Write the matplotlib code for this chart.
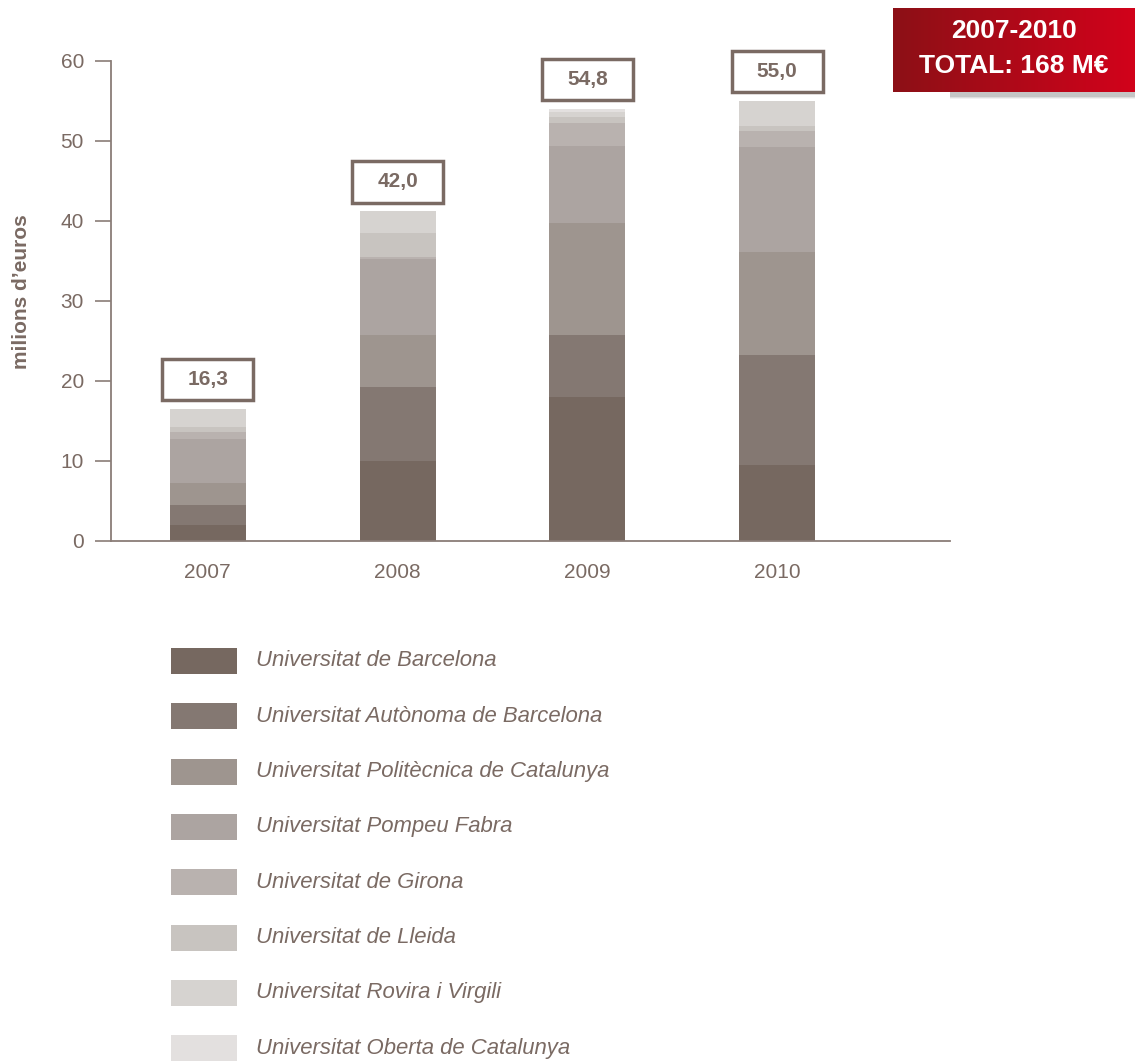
import numpy as np
import matplotlib
matplotlib.use("Agg")
import matplotlib.pyplot as plt
from matplotlib.patches import Rectangle
from matplotlib.colors import LinearSegmentedColormap

plt.rcParams['font.family'] = ['Liberation Sans', 'DejaVu Sans']

# dades (milions d'euros)
years = ["2007", "2008", "2009", "2010"]
totals_txt = ["16,3", "42,0", "54,8", "55,0"]
universities = [
    "Universitat de Barcelona",
    "Universitat Autònoma de Barcelona",
    "Universitat Politècnica de Catalunya",
    "Universitat Pompeu Fabra",
    "Universitat de Girona",
    "Universitat de Lleida",
    "Universitat Rovira i Virgili",
    "Universitat Oberta de Catalunya",
]
ub = [2.0, 10.0, 18.0, 9.5]
uab = [2.5, 9.2, 7.7, 13.7]
upc = [2.8, 6.5, 14.0, 12.9]
upf = [5.4, 9.5, 9.7, 13.1]
udg = [0.9, 0.3, 2.9, 2.0]
udl = [0.7, 3.0, 0.7, 0.7]
urv = [2.2, 2.7, 0.6, 3.1]
uoc = [0.0, 0.0, 0.4, 0.0]
series = [ub, uab, upc, upf, udg, udl, urv, uoc]

colors = ['#766860', '#847872', '#9e958f', '#aca4a1',
          '#b9b2af', '#c8c4c0', '#d6d3d0', '#e3e0df']
txt_col = '#7a6a63'

W, H = 1135, 1062
fig = plt.figure(figsize=(W / 100, H / 100), dpi=100)
ax = fig.add_axes([111 / W, 1 - 541 / H, (950 - 111) / W, (541 - 61) / H])

x = np.arange(len(years))
bottom = np.zeros(len(years))
for vals, c in zip(series, colors):
    ax.bar(x, vals, 0.4, bottom=bottom, color=c, linewidth=0)
    bottom += np.array(vals)

# caixes amb el total
for xi, top, t in zip(x, bottom, totals_txt):
    y0 = top + 1.1
    ax.add_patch(Rectangle((xi - 0.24, y0), 0.48, 5.2, facecolor='white',
                           edgecolor=txt_col, linewidth=2.5, clip_on=False))
    ax.text(xi, y0 + 2.6, t, ha='center', va='center', fontsize=15,
            fontweight='bold', color=txt_col, clip_on=False)

ax.set_xlim(-0.51, 3.91)
ax.set_ylim(0, 60)
ax.set_xticks(x)
ax.set_xticklabels(years)
ax.set_yticks(range(0, 61, 10))
ax.tick_params(axis='x', length=0, pad=16, labelsize=15, labelcolor=txt_col)
ax.tick_params(axis='y', length=11.5, width=1.2, color='#8a7d77', pad=8,
               labelsize=15, labelcolor=txt_col)
for s in ['top', 'right']:
    ax.spines[s].set_visible(False)
for s in ['left', 'bottom']:
    ax.spines[s].set_color('#8a7d77')
    ax.spines[s].set_linewidth(1.3)

fig.text(22 / W, 1 - 292 / H, "milions d’euros", rotation=90, ha='center',
         va='center', fontsize=15, fontweight='bold', color=txt_col)

# llegenda
for i, (name, c) in enumerate(zip(universities, colors)):
    yc = 661 + i * 55.3
    fig.patches.append(Rectangle((171 / W, 1 - (yc + 13) / H), 66 / W, 26 / H,
                                 transform=fig.transFigure, facecolor=c,
                                 linewidth=0))
    fig.text(256 / W, 1 - yc / H, name, ha='left', va='center', fontsize=15.9,
             style='italic', color=txt_col)

# requadre vermell amb ombra
for k, a in enumerate([0.08, 0.12, 0.18]):
    fig.patches.append(Rectangle(((896 + k) / W, 1 - (99 - k) / H), 240 / W,
                                 84 / H, transform=fig.transFigure,
                                 facecolor='#555555', alpha=a, linewidth=0,
                                 zorder=-1))
bax = fig.add_axes([893 / W, 1 - 92 / H, (1135 - 893) / W, 84 / H])
grad = np.linspace(0, 1, 256).reshape(1, -1)
cmap = LinearSegmentedColormap.from_list('r', ['#8c1016', '#d2021b'])
bax.imshow(grad, aspect='auto', cmap=cmap, extent=[0, 1, 0, 1])
bax.set_axis_off()
bax.text(0.5, 0.73, "2007-2010", ha='center', va='center', fontsize=19,
         fontweight='bold', color='white', transform=bax.transAxes)
bax.text(0.5, 0.31, "TOTAL: 168 M€", ha='center', va='center', fontsize=19,
         fontweight='bold', color='white', transform=bax.transAxes)

fig.savefig("out.png", dpi=100)
